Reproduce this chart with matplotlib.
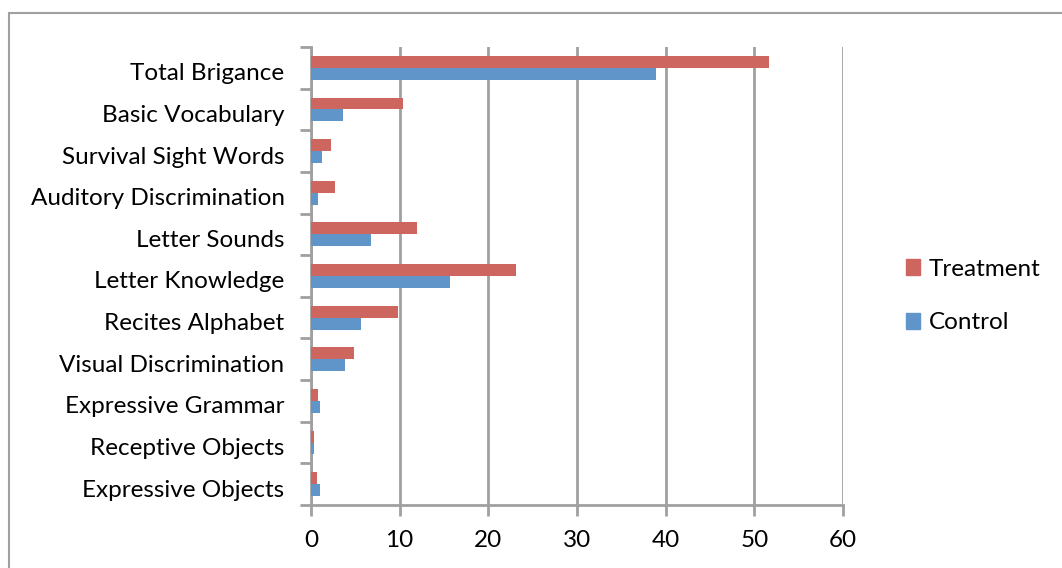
import matplotlib.pyplot as plt
import matplotlib.transforms as mtransforms
import numpy as np
from matplotlib.patches import Rectangle, Patch

# subtest scores, listed bottom to top
categories = ["Expressive Objects", "Receptive Objects", "Expressive Grammar",
              "Visual Discrimination", "Recites Alphabet", "Letter Knowledge",
              "Letter Sounds", "Auditory Discrimination", "Survival Sight Words",
              "Basic Vocabulary", "Total Brigance"]
control = [1.0, 0.3, 1.0, 3.8, 5.6, 15.7, 6.8, 0.8, 1.2, 3.6, 38.9]
treatment = [0.7, 0.3, 0.8, 4.85, 9.85, 23.1, 11.9, 2.7, 2.3, 10.4, 51.6]
xticks = [0, 10, 20, 30, 40, 50, 60]

red = "#CD665F"
blue = "#5F95C9"
grid = "#A0A0A0"

plt.rcParams['font.family'] = ['Lato', 'DejaVu Sans']

fig = plt.figure(figsize=(10.62, 5.68), dpi=100)
fig.patches.append(Rectangle((9 / 1062, -0.1), 1.2, 1 - 13 / 568 + 0.1,
                             transform=fig.transFigure, fill=False,
                             edgecolor="#A0A0A0", linewidth=1.5))

ax = fig.add_axes([311 / 1062, 63 / 568, 532 / 1062, 458 / 568])
y = np.arange(len(categories))
h = 0.286
ax.barh(y - h / 2, control, height=h, color=blue, label="Control", zorder=3)
ax.barh(y + h / 2, treatment, height=h, color=red, label="Treatment", zorder=3)

ax.set_xlim(0, 60)
ax.set_ylim(-0.5, len(categories) - 0.5)
ax.set_xticks(xticks)
ax.set_xticklabels([str(t) for t in xticks], fontsize=17.5)
ax.set_yticks(y)
ax.set_yticklabels(categories, fontsize=17.5, va='center_baseline')
ax.set_yticks(np.arange(-0.5, len(categories), 1), minor=True)
ax.tick_params(axis='y', which='major', length=0, pad=19)
ax.tick_params(axis='y', which='minor', length=8, width=2, color=grid, direction='out')
ax.tick_params(axis='x', length=8, width=2, color=grid, direction='out', pad=10)

# nudge category labels down a little
shift = mtransforms.ScaledTranslation(0, -4 / 100, fig.dpi_scale_trans)
for lbl in ax.get_yticklabels():
    lbl.set_transform(lbl.get_transform() + shift)

ax.grid(axis='x', color=grid, linewidth=2, zorder=0)
for s in ['top', 'right']:
    ax.spines[s].set_visible(False)
for s in ['left', 'bottom']:
    ax.spines[s].set_color(grid)
    ax.spines[s].set_linewidth(2)
ax.spines['left'].set_zorder(2)

handles = [Patch(color=red, label="Treatment"), Patch(color=blue, label="Control")]
fig.legend(handles=handles, loc='center left', bbox_to_anchor=(884 / 1062, 1 - 296 / 568),
           frameon=False, fontsize=17.5, handlelength=0.6, handleheight=0.6,
           handletextpad=0.35, labelspacing=1.35)

fig.savefig("out.png", dpi=100)
